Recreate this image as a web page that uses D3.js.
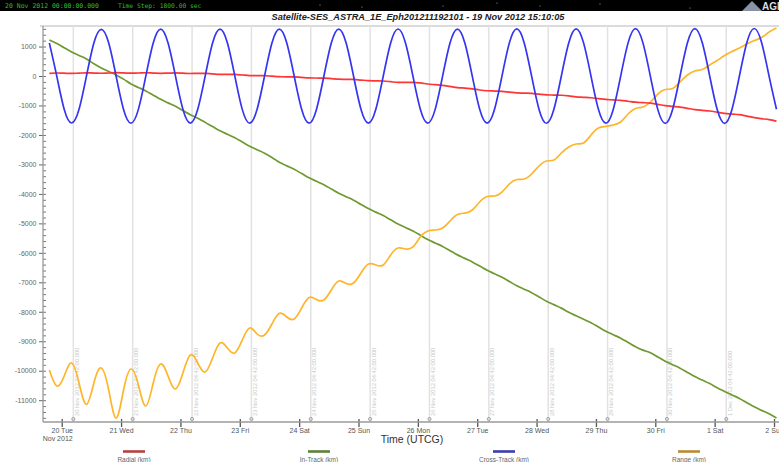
<!DOCTYPE html>
<html>
<head>
<meta charset="utf-8">
<script src="https://cdn.jsdelivr.net/npm/d3@7/dist/d3.min.js"></script>
<style>
  html, body { margin: 0; padding: 0; background: #fff; }
  svg { display: block; font-family: "Liberation Sans", Arial, sans-serif; }
</style>
</head>
<body>
<svg id="chart" width="779" height="462"></svg>
<script>
// ---- Ephemeris samples: one value every 3 hours, starting 19 Nov 2012 19:00 UTCG ----
const sampleStart = "19 Nov 2012 19:00:00.000";
const stepHours = 3;

const radialKm = [
  92, 102, 95, 89, 98, 108, 101, 94, 103, 112, 105, 96, 103, 110, 101, 92, 98, 105, 95, 86,
  92, 91, 73, 56, 55, 53, 35, 16, 14, 12, -6, -24, -26, -28, -47, -65, -68, -71, -89, -108,
  -112, -116, -137, -158, -164, -170, -191, -217, -218, -215, -235, -272, -294, -316, -353, -391, -412, -434, -474, -500,
  -510, -519, -545, -571, -581, -590, -615, -638, -646, -653, -676, -709, -722, -737, -767, -795, -810, -825, -856, -888,
  -903, -919, -962, -1003, -1029, -1055, -1097, -1139, -1164, -1187, -1227, -1267, -1290, -1312, -1362, -1413, -1448, -1482, -1530
];

const inTrackKm = [
  1222, 1103, 960, 818, 699, 580, 417, 274, 156, 37, -106, -269, -388, -506, -649, -792, -911, -1030, -1172, -1315,
  -1434, -1573, -1716, -1858, -1977, -2096, -2239, -2382, -2500, -2619, -2762, -2930, -3049, -3167, -3310, -3453, -3572, -3691, -3833, -3976,
  -4095, -4214, -4357, -4499, -4618, -4737, -4880, -5023, -5141, -5260, -5403, -5546, -5665, -5783, -5926, -6069, -6188, -6307, -6449, -6592,
  -6711, -6830, -6973, -7115, -7234, -7353, -7496, -7639, -7757, -7876, -8019, -8137, -8256, -8374, -8517, -8660, -8779, -8898, -9040, -9183,
  -9302, -9391, -9534, -9676, -9795, -9914, -10057, -10200, -10318, -10437, -10580, -10703, -10822, -10940, -11083, -11226, -11345, -11464, -11606
];

const crossTrackKm = [
  1120, -5, -1130, -1595, -1130, -5, 1120, 1585,
  1118, -8, -1135, -1600, -1132, -6, 1122, 1590,
  1120, -5, -1130, -1598, -1130, -5, 1121, 1588,
  1119, -6, -1132, -1600, -1131, -5, 1120, 1590,
  1122, -4, -1130, -1602, -1133, -7, 1118, 1592,
  1120, -5, -1130, -1600, -1130, -5, 1123, 1595,
  1121, -3, -1128, -1598, -1132, -6, 1120, 1594,
  1122, -5, -1131, -1601, -1130, -4, 1124, 1598,
  1123, -6, -1133, -1603, -1131, -5, 1122, 1600,
  1124, -4, -1130, -1602, -1133, -6, 1125, 1605,
  1125, -5, -1132, -1605, -1134, -5, 1127, 1608,
  1126, -3, -1131, -1606, -1133, -4, 1128, 1612,
  1128, -2, -1130
];

const rangeKm = [
  -9975, -10518, -10180, -9738, -10416, -11146, -10416, -9908, -10654, -11604,
  -10654, -9942, -10484, -11197, -10416, -9772, -10180, -10620, -10078, -9467,
  -9738, -10043, -9568, -9060, -9230, -9398, -8958, -8550, -8754, -8788,
  -8415, -8052, -8177, -8245, -7872, -7515, -7583, -7600, -7260, -6955,
  -7040, -7023, -6684, -6378, -6412, -6412, -6073, -5836, -5870, -5800,
  -5463, -5259, -5225, -5157, -4920, -4700, -4650, -4547, -4275, -4089,
  -4072, -3936, -3664, -3512, -3495, -3325, -3054, -2884, -2850, -2613,
  -2409, -2307, -2273, -2002, -1764, -1710, -1663, -1560, -1290, -1103,
  -1052, -882, -611, -458, -424, -204, 34, 170, 220, 373,
  526, 696, 831, 950, 1086, 1204, 1306, 1493, 1629
];

const seriesNames = ["Radial (km)", "In-Track (km)", "Cross-Track (km)", "Range (km)"];
const lineColors = ["#ff3535", "#6e9a30", "#3535f0", "#ffb52a"];
const legendColors = ["#b84040", "#5f7f3c", "#3c3cb0", "#bc8a30"];

// axis labels
const yMajorTicks = [1000, 0, -1000, -2000, -3000, -4000, -5000, -6000, -7000, -8000, -9000, -10000, -11000];
const dayTicks = ["20 Nov 2012", "21 Nov 2012", "22 Nov 2012", "23 Nov 2012", "24 Nov 2012", "25 Nov 2012",
  "26 Nov 2012", "27 Nov 2012", "28 Nov 2012", "29 Nov 2012", "30 Nov 2012", "1 Dec 2012", "2 Dec 2012"];
const markerTimes = [
  "20 Nov 2012 04:42:00.000", "21 Nov 2012 04:42:00.000", "22 Nov 2012 04:42:00.000",
  "23 Nov 2012 04:42:00.000", "24 Nov 2012 04:42:00.000", "25 Nov 2012 04:42:00.000",
  "26 Nov 2012 04:42:00.000", "27 Nov 2012 04:42:00.000", "28 Nov 2012 04:42:00.000",
  "29 Nov 2012 04:42:00.000", "30 Nov 2012 04:42:00.000", "1 Dec 2012 04:42:00.000"
];

const headerDate = "20 Nov 2012 00:00:00.000";
const headerStep = "Time Step: 1800.00 sec";
const titleText = "Satellite-SES_ASTRA_1E_Eph201211192101 - 19 Nov 2012 15:10:05";

// ---- setup ----
const W = 779, H = 462;
const plot = { left: 43, right: 779, top: 26, bottom: 422 };
const parseStamp = d3.utcParse("%d %b %Y %H:%M:%S.%L");
const parseDay = d3.utcParse("%d %b %Y");
const t0 = parseStamp(sampleStart);
const timeAt = i => new Date(t0.getTime() + i * stepHours * 3600e3);

const x = d3.scaleUtc()
  .domain([new Date(Date.UTC(2012, 10, 19, 16, 26)), new Date(Date.UTC(2012, 11, 2, 2, 1))])
  .range([plot.left, plot.right]);
const y = d3.scaleLinear().domain([-11740, 1697]).range([plot.bottom, plot.top]);

const svg = d3.select("#chart");

// header strip
svg.append("rect").attr("x", 0).attr("y", 0).attr("width", W).attr("height", 11).attr("fill", "#000");
const stars = [[320, 5], [362, 7], [443, 6], [497, 3], [540, 6], [600, 4], [690, 8]];
svg.append("g").selectAll("circle").data(stars).join("circle")
  .attr("cx", d => d[0]).attr("cy", d => d[1]).attr("r", 0.6).attr("fill", "#aaa");
svg.append("text").attr("x", 5).attr("y", 8).attr("fill", "#37b837")
  .attr("font-family", "DejaVu Sans Mono, monospace").attr("font-size", 6.5).text(headerDate);
svg.append("text").attr("x", 118).attr("y", 8).attr("fill", "#37b837")
  .attr("font-family", "DejaVu Sans Mono, monospace").attr("font-size", 6.3).text(headerStep);
// corner logo
svg.append("path").attr("d", "M742,11 L752,1 L762,11 Z").attr("fill", "#8a93a6");
svg.append("text").attr("x", 762).attr("y", 9.5).attr("fill", "#d8dce4")
  .attr("font-size", 10).attr("font-weight", "bold").text("AGI");

// title
svg.append("text").attr("x", 418).attr("y", 20).attr("text-anchor", "middle")
  .attr("font-size", 9.5).attr("font-weight", "bold").attr("font-style", "italic")
  .attr("fill", "#222").attr("textLength", 293).attr("lengthAdjust", "spacingAndGlyphs")
  .text(titleText);

// frame top
svg.append("line").attr("x1", 40).attr("x2", W).attr("y1", plot.top).attr("y2", plot.top)
  .attr("stroke", "#b8b8b8").attr("stroke-width", 1.2);

// marker gridlines
const markers = markerTimes.map(s => parseStamp(s));
const mg = svg.append("g");
mg.selectAll("line").data(markers).join("line")
  .attr("x1", d => x(d)).attr("x2", d => x(d))
  .attr("y1", plot.top).attr("y2", plot.bottom)
  .attr("stroke", "#e2e2e2").attr("stroke-width", 1.5);
mg.selectAll("text").data(markers).join("text")
  .attr("transform", d => `translate(${x(d) + 5.5},${plot.bottom - 6}) rotate(-90)`)
  .attr("font-size", 5.8).attr("fill", "#c8c8c8")
  .text((d, i) => markerTimes[i]);
mg.selectAll("circle").data(markers).join("circle")
  .attr("cx", d => x(d)).attr("cy", plot.bottom - 3).attr("r", 1.6)
  .attr("fill", "#ddd").attr("stroke", "#888").attr("stroke-width", 0.7);

// y axis
const yAxis = svg.append("g").attr("transform", `translate(${plot.left},0)`)
  .call(d3.axisLeft(y).tickValues(yMajorTicks).tickSize(4).tickPadding(2.5)
    .tickFormat(d => String(d)));
yAxis.select(".domain").remove();
yAxis.selectAll("text").attr("font-size", 7).attr("fill", "#666").attr("font-family", "Liberation Sans, Arial, sans-serif");
yAxis.selectAll("line").attr("stroke", "#666");
const minorVals = d3.range(-11600, 1601, 200);
const yMinor = svg.append("g").attr("transform", `translate(${plot.left},0)`)
  .call(d3.axisRight(y).tickValues(minorVals).tickSize(3).tickFormat(""));
yMinor.select(".domain").remove();
yMinor.selectAll("line").attr("stroke", "#777");
svg.append("line").attr("x1", plot.left).attr("x2", plot.left).attr("y1", plot.top).attr("y2", plot.bottom)
  .attr("stroke", "#9a9a9a").attr("stroke-width", 1.3);

// x axis
const days = dayTicks.map(s => parseDay(s));
const fmtDay = d3.utcFormat("%-d %a");
const xAxis = svg.append("g").attr("transform", `translate(0,${plot.bottom})`)
  .call(d3.axisBottom(x).tickValues(days).tickSize(5).tickPadding(1.5).tickFormat(fmtDay));
xAxis.select(".domain").remove();
xAxis.selectAll("text").attr("font-size", 7).attr("fill", "#555").attr("font-family", "Liberation Sans, Arial, sans-serif");
xAxis.selectAll("line").attr("stroke", "#555").attr("stroke-width", 1.3);
const xTop = svg.append("g").attr("transform", `translate(0,${plot.bottom})`)
  .call(d3.axisTop(x).tickValues(days).tickSize(3).tickFormat(""));
xTop.select(".domain").remove();
xTop.selectAll("line").attr("stroke", "#555").attr("stroke-width", 1.3);
svg.append("line").attr("x1", plot.left).attr("x2", W).attr("y1", plot.bottom).attr("y2", plot.bottom)
  .attr("stroke", "#9a9a9a").attr("stroke-width", 1.3);
svg.append("text").attr("x", x(days[0]) - 4).attr("y", 441).attr("text-anchor", "middle")
  .attr("font-size", 7).attr("fill", "#555").text(d3.utcFormat("%b %Y")(days[0]));
svg.append("text").attr("x", 412).attr("y", 443).attr("text-anchor", "middle")
  .attr("font-size", 10.5).attr("fill", "#333").text("Time (UTCG)");

// series
svg.append("clipPath").attr("id", "plotClip").append("rect")
  .attr("x", plot.left + 1).attr("y", plot.top).attr("width", plot.right - plot.left).attr("height", plot.bottom - plot.top);
const allSeries = [radialKm, inTrackKm, crossTrackKm, rangeKm];
const curves = [d3.curveMonotoneX, d3.curveMonotoneX, d3.curveNatural, d3.curveNatural];
const lines = svg.append("g").attr("clip-path", "url(#plotClip)");
[1, 3, 0, 2].forEach(k => {
  const line = d3.line().x((d, i) => x(timeAt(i))).y(d => y(d)).curve(curves[k]);
  lines.append("path").datum(allSeries[k]).attr("d", line)
    .attr("fill", "none").attr("stroke", lineColors[k]).attr("stroke-width", 1.7)
    .attr("stroke-linejoin", "round");
});

// legend
const legendX = [134, 319, 504, 689];
const lg = svg.append("g");
seriesNames.forEach((name, k) => {
  lg.append("line").attr("x1", legendX[k] - 11).attr("x2", legendX[k] + 11)
    .attr("y1", 451.5).attr("y2", 451.5).attr("stroke", legendColors[k]).attr("stroke-width", 2.6);
  lg.append("text").attr("x", legendX[k]).attr("y", 461.5).attr("text-anchor", "middle")
    .attr("font-size", 6.5).attr("fill", "#666").text(name);
});
</script>
</body>
</html>
